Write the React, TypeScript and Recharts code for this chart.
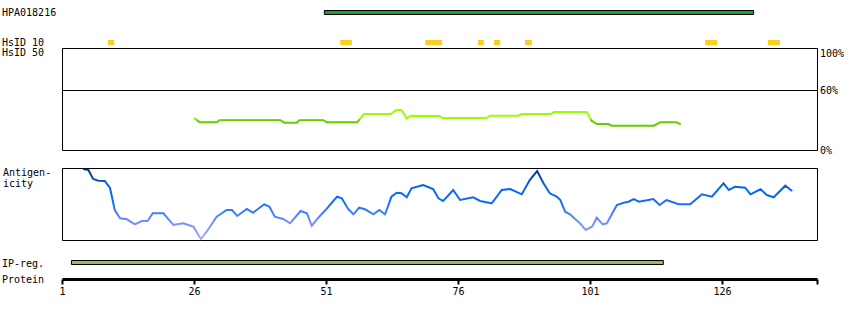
import React from 'react';
import {
  LineChart,
  Line,
  XAxis,
  YAxis,
  ReferenceArea,
  ReferenceLine,
} from 'recharts';

// protein / axis
const PROTEIN_LENGTH = 144;
const axisTicks = [1, 26, 51, 76, 101, 126];

// feature tracks (residue ranges)
const antibodyRegions = [{ start: 50.6, end: 131.9 }];
const hsid10Regions = [
  { start: 9.6, end: 10.8 },
  { start: 53.6, end: 55.8 },
  { start: 69.7, end: 72.9 },
  { start: 79.7, end: 80.8 },
  { start: 82.7, end: 83.9 },
  { start: 88.6, end: 89.9 },
  { start: 122.7, end: 125.0 },
  { start: 134.6, end: 136.9 },
];
const ipRegions = [{ start: 2.7, end: 114.8 }];

// HsID 50 identity (%)
const identityResidue = [
  25.9, 27.0, 30.2, 30.8, 42.2, 43.0, 45.4, 45.9, 50.4, 51.0, 56.8, 58.1,
  63.2, 64.2, 65.2, 66.2, 67.0, 72.4, 73.0, 81.3, 82.0, 87.3, 88.0, 93.5,
  94.1, 100.3, 101.2, 102.2, 104.4, 105.0, 113.0, 114.2, 117.3, 118.1,
];
const identityPct = [
  32.8, 28.2, 28.2, 30.5, 30.5, 27.8, 27.8, 30.5, 30.5, 28.2, 28.2, 36.5,
  36.5, 40.5, 40.5, 32.2, 34.8, 34.5, 32.5, 32.5, 34.8, 34.8, 36.5, 36.5,
  38.5, 38.5, 29.8, 26.5, 26.5, 24.8, 24.8, 28.2, 28.2, 26.2,
];

// antigenicity profile
const antigenResidue = [
  4.9, 5.9, 6.8, 7.8, 9.0, 10.0, 10.9, 11.9, 13.2, 14.7, 16.0, 17.1, 18.1,
  20.1, 22.0, 23.9, 25.8, 27.2, 28.3, 30.2, 32.1, 33.1, 34.1, 35.9, 37.1,
  39.2, 40.2, 41.2, 42.8, 44.1, 46.1, 47.3, 48.2, 49.8, 51.0, 53.0, 53.9,
  55.1, 56.1, 57.2, 58.3, 59.9, 61.0, 62.1, 63.3, 64.3, 65.2, 66.2, 67.1,
  69.3, 71.2, 72.2, 73.1, 75.0, 76.3, 78.8, 80.1, 82.3, 84.2, 85.8, 88.0,
  89.5, 90.9, 92.1, 93.3, 94.6, 95.3, 96.2, 97.1, 99.0, 100.1, 101.3, 102.2,
  103.3, 104.1, 106.0, 107.3, 108.2, 109.2, 110.2, 112.9, 114.1, 115.4,
  117.7, 119.9, 122.1, 124.0, 126.2, 127.2, 128.4, 130.3, 131.3, 133.2,
  134.4, 135.7, 137.9, 139.2,
];
const antigenScore = [
  71.5, 70.5, 61.5, 59.8, 59.5, 52.5, 30.5, 22.2, 21.2, 16.2, 19.5, 19.5,
  27.2, 27.2, 15.5, 17.2, 13.8, 1.5, 8.8, 23.8, 30.5, 30.5, 24.5, 31.5, 27.8,
  36.2, 33.8, 23.8, 21.5, 17.2, 29.5, 27.2, 14.8, 24.8, 31.5, 43.8, 42.2,
  31.5, 26.2, 32.8, 31.2, 26.2, 30.5, 26.2, 43.8, 47.8, 47.2, 43.2, 52.2,
  55.5, 51.5, 42.2, 39.5, 50.5, 40.5, 43.2, 39.5, 37.2, 50.5, 51.5, 46.2,
  60.5, 69.5, 57.2, 47.2, 43.8, 40.5, 28.8, 26.2, 17.2, 10.5, 13.8, 22.8,
  16.2, 17.2, 35.5, 37.8, 38.8, 41.5, 38.8, 41.5, 35.5, 40.5, 36.2, 36.2,
  46.2, 43.8, 57.2, 50.5, 53.8, 52.8, 46.2, 51.2, 45.5, 43.2, 54.8, 49.5,
];

const identityData = identityResidue.map((r, i) => ({ r, pct: identityPct[i] }));
const antigenData = antigenResidue.map((r, i) => ({ r, score: antigenScore[i] }));

const W = 850;
const H = 320;
const FONT = "'DejaVu Sans Mono', monospace";
const PLOT_LEFT = 62.5;
const PLOT_RIGHT = 817.5;

const layer: React.CSSProperties = { position: 'absolute', left: 0, top: 0 };

// plot area spanning page rows top..bottom
const frame = (top: number, bottom: number) => ({
  top,
  bottom: H - bottom,
  left: PLOT_LEFT,
  right: W - PLOT_RIGHT,
});

interface Region {
  start: number;
  end: number;
}

const Track = ({
  regions,
  top,
  bottom,
  fill,
  stroke,
}: {
  regions: Region[];
  top: number;
  bottom: number;
  fill: string;
  stroke?: string;
}) => (
  <div style={layer}>
    <LineChart width={W} height={H} data={regions} margin={frame(top, bottom)}>
      <XAxis type="number" dataKey="start" domain={[1, PROTEIN_LENGTH]} hide allowDataOverflow />
      <YAxis type="number" domain={[0, 1]} hide allowDataOverflow />
      {regions.map((s, i) => (
        <ReferenceArea
          key={i}
          x1={s.start}
          x2={s.end}
          y1={0}
          y2={1}
          fill={fill}
          fillOpacity={1}
          stroke={stroke || 'none'}
          strokeWidth={1}
          ifOverflow="visible"
        />
      ))}
    </LineChart>
  </div>
);

const App = () => {
  return (
    <div style={{ ...layer, width: W, height: H, background: '#fff' }}>
      <svg width={W} height={H} style={layer} fontFamily={FONT} fontSize={10} fill="#000">
        <text x={2} y={16}>HPA018216</text>
        <text x={2} y={46}>HsID 10</text>
        <text x={2} y={56}>HsID 50</text>
        <text x={3} y={176}>Antigen-</text>
        <text x={3} y={187}>icity</text>
        <text x={2} y={267}>IP-reg.</text>
        <text x={2} y={283}>Protein</text>
        <text x={820} y={57}>100%</text>
        <text x={820} y={94}>60%</text>
        <text x={820} y={154}>0%</text>
      </svg>

      <Track regions={antibodyRegions} top={10.5} bottom={14.5} fill="#1ca21c" stroke="#000" />
      <Track regions={hsid10Regions} top={40} bottom={45} fill="#ffcc22" />
      <Track regions={ipRegions} top={260.5} bottom={264.5} fill="#99bb55" stroke="#000" />

      {/* identity panel */}
      <div style={layer}>
        <LineChart width={W} height={H} data={identityData} margin={frame(48.5, 150.5)}>
          <defs>
            <linearGradient id="idGrad" gradientUnits="userSpaceOnUse" x1={0} y1={48.5} x2={0} y2={150.5}>
              <stop offset={0} stopColor="#99ff00" />
              <stop offset={0.69} stopColor="#99ff00" />
              <stop offset={0.7} stopColor="#66cc00" />
              <stop offset={1} stopColor="#66cc00" />
            </linearGradient>
          </defs>
          <XAxis type="number" dataKey="r" domain={[1, PROTEIN_LENGTH]} hide allowDataOverflow />
          <YAxis type="number" domain={[0, 102]} hide allowDataOverflow />
          <ReferenceArea x1={1} x2={PROTEIN_LENGTH} y1={0} y2={102} fill="none" stroke="#000" strokeWidth={1} ifOverflow="visible" />
          <ReferenceLine y={60} stroke="#000" strokeWidth={1} />
          <Line
            dataKey="pct"
            type="linear"
            stroke="url(#idGrad)"
            strokeWidth={2}
            dot={false}
            isAnimationActive={false}
          />
        </LineChart>
      </div>

      {/* antigenicity panel */}
      <div style={layer}>
        <LineChart width={W} height={H} data={antigenData} margin={frame(168.5, 240.5)}>
          <defs>
            <linearGradient id="agGrad" gradientUnits="userSpaceOnUse" x1={0} y1={168.5} x2={0} y2={240.5}>
              <stop offset={0} stopColor="#003388" />
              <stop offset={0.15} stopColor="#0a4fb5" />
              <stop offset={0.25} stopColor="#0066ee" />
              <stop offset={0.45} stopColor="#0f6aff" />
              <stop offset={0.6} stopColor="#3a7cff" />
              <stop offset={0.75} stopColor="#7290ff" />
              <stop offset={0.88} stopColor="#949bff" />
              <stop offset={1} stopColor="#b8a8ff" />
            </linearGradient>
          </defs>
          <XAxis type="number" dataKey="r" domain={[1, PROTEIN_LENGTH]} hide allowDataOverflow />
          <YAxis type="number" domain={[0, 72]} hide allowDataOverflow />
          <ReferenceArea x1={1} x2={PROTEIN_LENGTH} y1={0} y2={72} fill="none" stroke="#000" strokeWidth={1} ifOverflow="visible" />
          <Line
            dataKey="score"
            type="linear"
            stroke="url(#agGrad)"
            strokeWidth={2}
            dot={false}
            isAnimationActive={false}
          />
        </LineChart>
      </div>

      {/* protein axis */}
      <div style={layer}>
        <LineChart width={W} height={H} data={antigenData} margin={{ ...frame(270, 279.5), bottom: H - 279.5 - 20 }}>
          <XAxis
            type="number"
            dataKey="r"
            domain={[1, PROTEIN_LENGTH]}
            allowDataOverflow
            ticks={[...axisTicks, PROTEIN_LENGTH]}
            interval={0}
            tickFormatter={(v: number) => (v === PROTEIN_LENGTH ? '' : String(v))}
            height={20}
            axisLine={{ stroke: '#000', strokeWidth: 3 }}
            tickLine={{ stroke: '#000', strokeWidth: 2 }}
            tickSize={5}
            tickMargin={3.4}
            tick={{ fill: '#000', fontSize: 10, fontFamily: FONT }}
          />
          <YAxis type="number" domain={[0, 1]} hide allowDataOverflow />
        </LineChart>
      </div>
    </div>
  );
};

export default App;
